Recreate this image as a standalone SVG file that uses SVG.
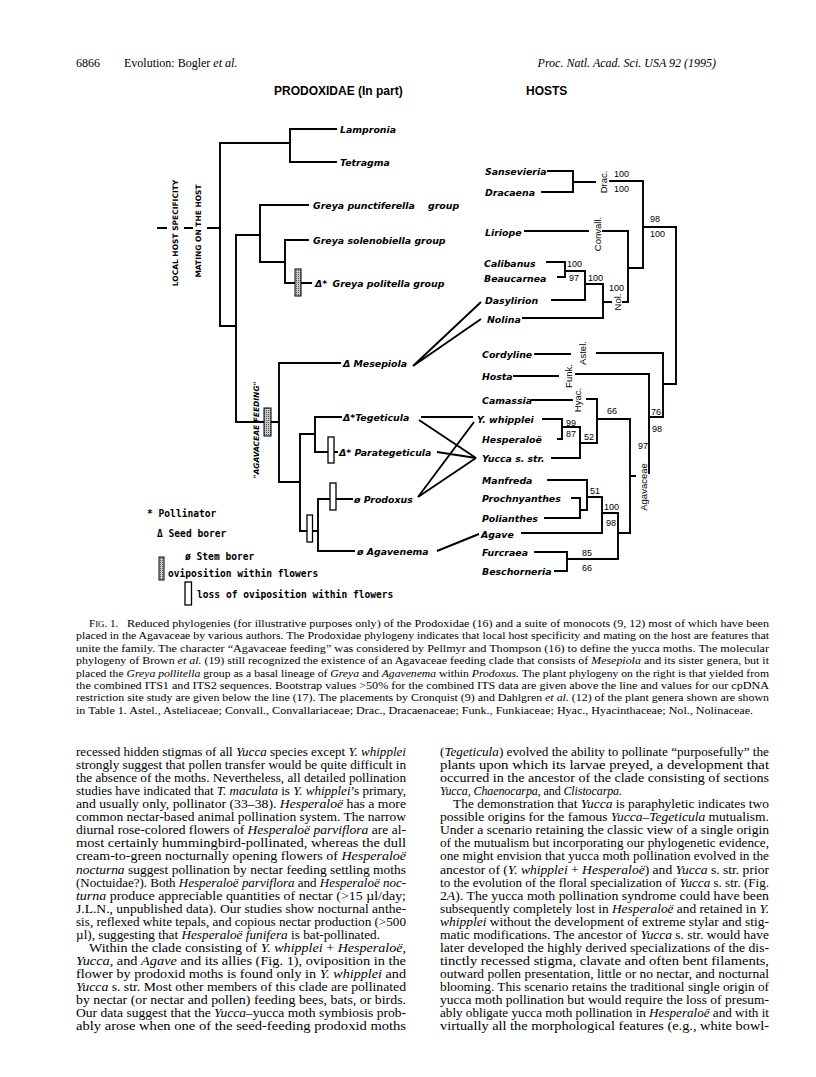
<svg xmlns="http://www.w3.org/2000/svg" width="816" height="1077" viewBox="0 0 816 1077">
<style>
.ln{stroke:#000;stroke-width:1.9;fill:none;stroke-linecap:square}
.x{stroke:#000;stroke-width:1.9;fill:none}
.t{font-family:"DejaVu Sans",sans-serif;font-weight:bold;font-style:oblique;font-size:9.4px;fill:#000}
.n{font-family:"Liberation Sans",Arial,sans-serif;font-size:9px;fill:#000}
.f{font-family:"Liberation Sans",Arial,sans-serif;font-size:9.5px;fill:#000;text-anchor:middle}
.leg{font-family:"DejaVu Sans Mono",monospace;font-weight:bold;font-size:9.6px;fill:#000}
.vt{font-family:"DejaVu Sans",sans-serif;font-weight:bold;font-size:7.5px;fill:#000;text-anchor:middle}
.hd{font-family:"Liberation Sans",Arial,sans-serif;font-weight:bold;font-size:12px;fill:#000}
.run{font-family:"Liberation Serif",serif;font-size:12px;fill:#000}
.b{font-family:"Liberation Serif",serif;font-size:12px;fill:#000}
.c{font-family:"Liberation Serif",serif;font-size:11px;fill:#000}
.i{font-style:italic}
.gr{fill:url(#stip);stroke:#000;stroke-width:1}
.wr{fill:#fff;stroke:#000;stroke-width:1.3}
</style>
<defs>
<pattern id="stip" width="2" height="2" patternUnits="userSpaceOnUse"><rect width="2" height="2" fill="#c8c8c8"/><rect width="1" height="1" fill="#555"/></pattern>
</defs>
<rect width="816" height="1077" fill="#fff"/>

<g id="header">
<text class="run" x="76" y="67">6866</text>
<text class="run" x="124" y="67">Evolution: Bogler <tspan class="i">et al.</tspan></text>
<text class="run i" x="716" y="67" text-anchor="end">Proc. Natl. Acad. Sci. USA 92 (1995)</text>
<text class="hd" x="274" y="95">PRODOXIDAE  (In part)</text>
<text class="hd" x="526" y="95">HOSTS</text>
</g>

<g id="moth-labels">
<text class="vt" transform="translate(178,233) rotate(-90)">LOCAL HOST SPECIFICITY</text>
<text class="vt" transform="translate(201,231) rotate(-90)">MATING ON THE HOST</text>
<text class="vt" font-style="oblique" font-size="8px" transform="translate(258.5,430) rotate(-90)">"AGAVACEAE FEEDING"</text>
</g>

<g id="connectors">
<path class="ln" d="M158,228H166 M185,228H192 M208,228H220"/>
<path class="ln" d="M290,129V162 M290,129H336 M290,162H336 M220,143H290 M220,143V326H236 M236,235V422"/>
<path class="ln" d="M236,235H260 M260,205V262 M260,205H308 M260,262H285 M285,240V283 M285,240H308 M285,283H311"/>
<path class="ln" d="M236,422H279 M279,363V482 M279,363H340 M279,482H300 M300,434V531 M300,434H315 M315,417V452 M315,417H341 M315,452H337"/>
<path class="ln" d="M300,531H318 M318,499V551 M318,499H352 M318,551H354"/>
<path class="x" d="M413,366L481,302 M413,366L481,319 M421,417H473 M419,420L476,458 M437,452L476,458 M418,497L474,422 M418,497L476,458 M437,551L479,534"/>
<path class="ln" d="M548,171H573 M542,192H573 M573,171V192 M573,182H595 M610,181H643 M643,181V268 M643,227H676 M676,227V384 M628,268H643 M628,231V302"/>
<path class="ln" d="M525,231H588 M603,231H628"/>
<path class="ln" d="M547,262H565 M558,277H565 M565,262V277 M565,271H585 M585,271V300 M585,284H603 M552,300H585 M523,318H603 M603,284V318 M603,302H611 M623,302H628"/>
<path class="ln" d="M535,354H570 M597,353H663 M514,376H558 M576,374H649 M663,353V417 M663,384H676 M649,374V473 M649,417H663"/>
<path class="ln" d="M532,400H572 M587,399H597 M597,399V443 M543,419H562 M558,439H562 M562,419V439 M562,427H580 M580,427V458 M552,458H580 M580,443H597 M597,419H630 M630,419V533 M630,476H635"/>
<path class="ln" d="M548,480H587 M572,498H580 M545,518H580 M580,498V518 M580,510H587 M587,480V510 M587,497H602 M602,497V533 M522,533H602 M602,513H618 M618,513V559 M618,533H630 M535,552H567 M555,571H567 M567,552V571 M567,559H618"/>
</g>

<g id="markers">
<rect class="gr" x="295" y="269" width="6" height="27"/>
<rect class="gr" x="264" y="408" width="7" height="28"/>
<rect class="wr" x="328" y="437" width="6" height="26"/>
<rect class="wr" x="307" y="515" width="5.5" height="27"/>
<rect class="wr" x="330" y="483" width="6" height="27"/>
</g>

<g id="moth-taxa">
<text class="t" x="340" y="133">Lampronia</text>
<text class="t" x="340" y="166">Tetragma</text>
<text class="t" x="313" y="209">Greya punctiferella</text>
<text class="t" x="428" y="209">group</text>
<text class="t" x="313" y="244">Greya solenobiella group</text>
<text class="t" x="315" y="287">Δ* <tspan dx="2">Greya politella group</tspan></text>
<text class="t" x="343" y="367">Δ Mesepiola</text>
<text class="t" x="343" y="421">Δ*Tegeticula</text>
<text class="t" x="339" y="456">Δ* Parategeticula</text>
<text class="t" x="354" y="503">ø Prodoxus</text>
<text class="t" x="357" y="555">ø Agavenema</text>
</g>

<g id="host-taxa">
<text class="t" x="485" y="175">Sansevieria</text>
<text class="t" x="485" y="196">Dracaena</text>
<text class="t" x="485" y="236">Liriope</text>
<text class="t" x="484" y="267">Calibanus</text>
<text class="t" x="484" y="282">Beaucarnea</text>
<text class="t" x="485" y="304">Dasylirion</text>
<text class="t" x="487" y="323">Nolina</text>
<text class="t" x="482" y="358">Cordyline</text>
<text class="t" x="482" y="380">Hosta</text>
<text class="t" x="482" y="404">Camassia</text>
<text class="t" x="477" y="423">Y. whipplei</text>
<text class="t" x="482" y="443">Hesperaloë</text>
<text class="t" x="482" y="462">Yucca s. str.</text>
<text class="t" x="482" y="484">Manfreda</text>
<text class="t" x="482" y="502">Prochnyanthes</text>
<text class="t" x="482" y="522">Polianthes</text>
<text class="t" x="481" y="538">Agave</text>
<text class="t" x="482" y="556">Furcraea</text>
<text class="t" x="482" y="575">Beschorneria</text>
</g>

<g id="families">
<text class="f" transform="translate(606.5,182) rotate(-90)">Drac.</text>
<text class="f" transform="translate(600.5,234) rotate(-90)">Convall.</text>
<text class="f" transform="translate(620.5,302) rotate(-90)">Nol.</text>
<text class="f" transform="translate(585.5,353) rotate(-90)">Astel.</text>
<text class="f" transform="translate(571.5,376) rotate(-90)">Funk.</text>
<text class="f" transform="translate(580.5,400) rotate(-90)">Hyac.</text>
<text class="f" font-size="10.5px" transform="translate(646.5,487) rotate(-90)">Agavaceae</text>
</g>

<g id="bootstrap">
<text class="n" x="614" y="177">100</text>
<text class="n" x="614" y="192">100</text>
<text class="n" x="650" y="222">98</text>
<text class="n" x="650" y="237">100</text>
<text class="n" x="567" y="267">100</text>
<text class="n" x="569" y="281">97</text>
<text class="n" x="588" y="281">100</text>
<text class="n" x="609" y="291">100</text>
<text class="n" x="651" y="415">76</text>
<text class="n" x="652" y="432">98</text>
<text class="n" x="566" y="426">99</text>
<text class="n" x="566" y="437">87</text>
<text class="n" x="584" y="440">52</text>
<text class="n" x="607" y="414">66</text>
<text class="n" x="638" y="449">97</text>
<text class="n" x="590" y="494">51</text>
<text class="n" x="604" y="510">100</text>
<text class="n" x="606" y="526">98</text>
<text class="n" x="582" y="556">85</text>
<text class="n" x="582" y="571">66</text>
</g>

<g id="legend">
<text class="leg" x="147" y="517">* Pollinator</text>
<text class="leg" x="157" y="537">Δ Seed borer</text>
<text class="leg" x="185" y="560">ø Stem borer</text>
<rect class="gr" x="159" y="557" width="5" height="23"/>
<text class="leg" x="168" y="577">oviposition within flowers</text>
<rect class="wr" x="185" y="582" width="6.5" height="23"/>
<text class="leg" x="197" y="598">loss of oviposition within flowers</text>
</g>

<g id="caption">
<text class="c" x="89" y="627">F<tspan font-size="8.8px">IG</tspan>. 1.</text>
<text class="c" x="127" y="627" textLength="642" lengthAdjust="spacingAndGlyphs">Reduced phylogenies (for illustrative purposes only) of the Prodoxidae (16) and a suite of monocots (9, 12) most of which have been</text>
<text class="c" x="76" y="639.4" textLength="693" lengthAdjust="spacingAndGlyphs">placed in the Agavaceae by various authors. The Prodoxidae phylogeny indicates that local host specificity and mating on the host are features that</text>
<text class="c" x="76" y="651.8" textLength="693" lengthAdjust="spacingAndGlyphs">unite the family. The character “Agavaceae feeding” was considered by Pellmyr and Thompson (16) to define the yucca moths. The molecular</text>
<text class="c" x="76" y="664.2" textLength="693" lengthAdjust="spacingAndGlyphs">phylogeny of Brown <tspan class="i">et al.</tspan> (19) still recognized the existence of an Agavaceae feeding clade that consists of <tspan class="i">Mesepiola</tspan> and its sister genera, but it</text>
<text class="c" x="76" y="676.6" textLength="693" lengthAdjust="spacingAndGlyphs">placed the <tspan class="i">Greya pollitella</tspan> group as a basal lineage of <tspan class="i">Greya</tspan> and <tspan class="i">Agavenema</tspan> within <tspan class="i">Prodoxus.</tspan> The plant phylogeny on the right is that yielded from</text>
<text class="c" x="76" y="689" textLength="693" lengthAdjust="spacingAndGlyphs">the combined ITS1 and ITS2 sequences. Bootstrap values &gt;50% for the combined ITS data are given above the line and values for our cpDNA</text>
<text class="c" x="76" y="701.4" textLength="693" lengthAdjust="spacingAndGlyphs">restriction site study are given below the line (17). The placements by Cronquist (9) and Dahlgren <tspan class="i">et al.</tspan> (12) of the plant genera shown are shown</text>
<text class="c" x="76" y="713.8" textLength="677" lengthAdjust="spacingAndGlyphs">in Table 1. Astel., Asteliaceae; Convall., Convallariaceae; Drac., Dracaenaceae; Funk., Funkiaceae; Hyac., Hyacinthaceae; Nol., Nolinaceae.</text>
</g>

<g id="body-left">
<text class="b" x="76" y="756" textLength="330" lengthAdjust="spacingAndGlyphs">recessed hidden stigmas of all <tspan class="i">Yucca</tspan> species except <tspan class="i">Y. whipplei</tspan></text>
<text class="b" x="76" y="769.1" textLength="330" lengthAdjust="spacingAndGlyphs">strongly suggest that pollen transfer would be quite difficult in</text>
<text class="b" x="76" y="782.1" textLength="330" lengthAdjust="spacingAndGlyphs">the absence of the moths. Nevertheless, all detailed pollination</text>
<text class="b" x="76" y="795.2" textLength="330" lengthAdjust="spacingAndGlyphs">studies have indicated that <tspan class="i">T. maculata</tspan> is <tspan class="i">Y. whipplei</tspan>’s primary,</text>
<text class="b" x="76" y="808.2" textLength="330" lengthAdjust="spacingAndGlyphs">and usually only, pollinator (33–38). <tspan class="i">Hesperaloë</tspan> has a more</text>
<text class="b" x="76" y="821.3" textLength="330" lengthAdjust="spacingAndGlyphs">common nectar-based animal pollination system. The narrow</text>
<text class="b" x="76" y="834.3" textLength="330" lengthAdjust="spacingAndGlyphs">diurnal rose-colored flowers of <tspan class="i">Hesperaloë parviflora</tspan> are al-</text>
<text class="b" x="76" y="847.4" textLength="330" lengthAdjust="spacingAndGlyphs">most certainly hummingbird-pollinated, whereas the dull</text>
<text class="b" x="76" y="860.4" textLength="330" lengthAdjust="spacingAndGlyphs">cream-to-green nocturnally opening flowers of <tspan class="i">Hesperaloë</tspan></text>
<text class="b" x="76" y="873.5" textLength="330" lengthAdjust="spacingAndGlyphs"><tspan class="i">nocturna</tspan> suggest pollination by nectar feeding settling moths</text>
<text class="b" x="76" y="886.5" textLength="330" lengthAdjust="spacingAndGlyphs">(Noctuidae?). Both <tspan class="i">Hesperaloë parviflora</tspan> and <tspan class="i">Hesperaloë noc-</tspan></text>
<text class="b" x="76" y="899.6" textLength="330" lengthAdjust="spacingAndGlyphs"><tspan class="i">turna</tspan> produce appreciable quantities of nectar (&gt;15 µl/day;</text>
<text class="b" x="76" y="912.6" textLength="330" lengthAdjust="spacingAndGlyphs">J.L.N., unpublished data). Our studies show nocturnal anthe-</text>
<text class="b" x="76" y="925.7" textLength="330" lengthAdjust="spacingAndGlyphs">sis, reflexed white tepals, and copious nectar production (&gt;500</text>
<text class="b" x="76" y="938.7" textLength="304" lengthAdjust="spacingAndGlyphs">µl), suggesting that <tspan class="i">Hesperaloë funifera</tspan> is bat-pollinated.</text>
<text class="b" x="89" y="951.8" textLength="317" lengthAdjust="spacingAndGlyphs">Within the clade consisting of <tspan class="i">Y. whipplei</tspan> + <tspan class="i">Hesperaloë,</tspan></text>
<text class="b" x="76" y="964.8" textLength="330" lengthAdjust="spacingAndGlyphs"><tspan class="i">Yucca</tspan>, and <tspan class="i">Agave</tspan> and its allies (Fig. 1), oviposition in the</text>
<text class="b" x="76" y="977.9" textLength="330" lengthAdjust="spacingAndGlyphs">flower by prodoxid moths is found only in <tspan class="i">Y. whipplei</tspan> and</text>
<text class="b" x="76" y="990.9" textLength="330" lengthAdjust="spacingAndGlyphs"><tspan class="i">Yucca</tspan> s. str. Most other members of this clade are pollinated</text>
<text class="b" x="76" y="1004" textLength="330" lengthAdjust="spacingAndGlyphs">by nectar (or nectar and pollen) feeding bees, bats, or birds.</text>
<text class="b" x="76" y="1017" textLength="330" lengthAdjust="spacingAndGlyphs">Our data suggest that the <tspan class="i">Yucca</tspan>–yucca moth symbiosis prob-</text>
<text class="b" x="76" y="1030.1" textLength="330" lengthAdjust="spacingAndGlyphs">ably arose when one of the seed-feeding prodoxid moths</text>
</g>

<g id="body-right">
<text class="b" x="440" y="756" textLength="329" lengthAdjust="spacingAndGlyphs">(<tspan class="i">Tegeticula</tspan>) evolved the ability to pollinate “purposefully” the</text>
<text class="b" x="440" y="769.1" textLength="329" lengthAdjust="spacingAndGlyphs">plants upon which its larvae preyed, a development that</text>
<text class="b" x="440" y="782.1" textLength="329" lengthAdjust="spacingAndGlyphs">occurred in the ancestor of the clade consisting of sections</text>
<text class="b" x="440" y="795.2" textLength="182" lengthAdjust="spacing"><tspan class="i">Yucca, Chaenocarpa</tspan>, and <tspan class="i">Clistocarpa.</tspan></text>
<text class="b" x="453" y="808.2" textLength="316" lengthAdjust="spacingAndGlyphs">The demonstration that <tspan class="i">Yucca</tspan> is paraphyletic indicates two</text>
<text class="b" x="440" y="821.3" textLength="329" lengthAdjust="spacingAndGlyphs">possible origins for the famous <tspan class="i">Yucca–Tegeticula</tspan> mutualism.</text>
<text class="b" x="440" y="834.3" textLength="329" lengthAdjust="spacingAndGlyphs">Under a scenario retaining the classic view of a single origin</text>
<text class="b" x="440" y="847.4" textLength="329" lengthAdjust="spacingAndGlyphs">of the mutualism but incorporating our phylogenetic evidence,</text>
<text class="b" x="440" y="860.4" textLength="329" lengthAdjust="spacingAndGlyphs">one might envision that yucca moth pollination evolved in the</text>
<text class="b" x="440" y="873.5" textLength="329" lengthAdjust="spacingAndGlyphs">ancestor of (<tspan class="i">Y. whipplei</tspan> + <tspan class="i">Hesperaloë</tspan>) and <tspan class="i">Yucca</tspan> s. str. prior</text>
<text class="b" x="440" y="886.5" textLength="329" lengthAdjust="spacingAndGlyphs">to the evolution of the floral specialization of <tspan class="i">Yucca</tspan> s. str. (Fig.</text>
<text class="b" x="440" y="899.6" textLength="329" lengthAdjust="spacingAndGlyphs">2<tspan class="i">A</tspan>). The yucca moth pollination syndrome could have been</text>
<text class="b" x="440" y="912.6" textLength="329" lengthAdjust="spacingAndGlyphs">subsequently completely lost in <tspan class="i">Hesperaloë</tspan> and retained in <tspan class="i">Y.</tspan></text>
<text class="b" x="440" y="925.7" textLength="329" lengthAdjust="spacingAndGlyphs"><tspan class="i">whipplei</tspan> without the development of extreme stylar and stig-</text>
<text class="b" x="440" y="938.7" textLength="329" lengthAdjust="spacingAndGlyphs">matic modifications. The ancestor of <tspan class="i">Yucca</tspan> s. str. would have</text>
<text class="b" x="440" y="951.8" textLength="329" lengthAdjust="spacingAndGlyphs">later developed the highly derived specializations of the dis-</text>
<text class="b" x="440" y="964.8" textLength="329" lengthAdjust="spacingAndGlyphs">tinctly recessed stigma, clavate and often bent filaments,</text>
<text class="b" x="440" y="977.9" textLength="329" lengthAdjust="spacingAndGlyphs">outward pollen presentation, little or no nectar, and nocturnal</text>
<text class="b" x="440" y="990.9" textLength="329" lengthAdjust="spacingAndGlyphs">blooming. This scenario retains the traditional single origin of</text>
<text class="b" x="440" y="1004" textLength="329" lengthAdjust="spacingAndGlyphs">yucca moth pollination but would require the loss of presum-</text>
<text class="b" x="440" y="1017" textLength="329" lengthAdjust="spacingAndGlyphs">ably obligate yucca moth pollination in <tspan class="i">Hesperaloë</tspan> and with it</text>
<text class="b" x="440" y="1030.1" textLength="329" lengthAdjust="spacingAndGlyphs">virtually all the morphological features (e.g., white bowl-</text>
</g>
</svg>
